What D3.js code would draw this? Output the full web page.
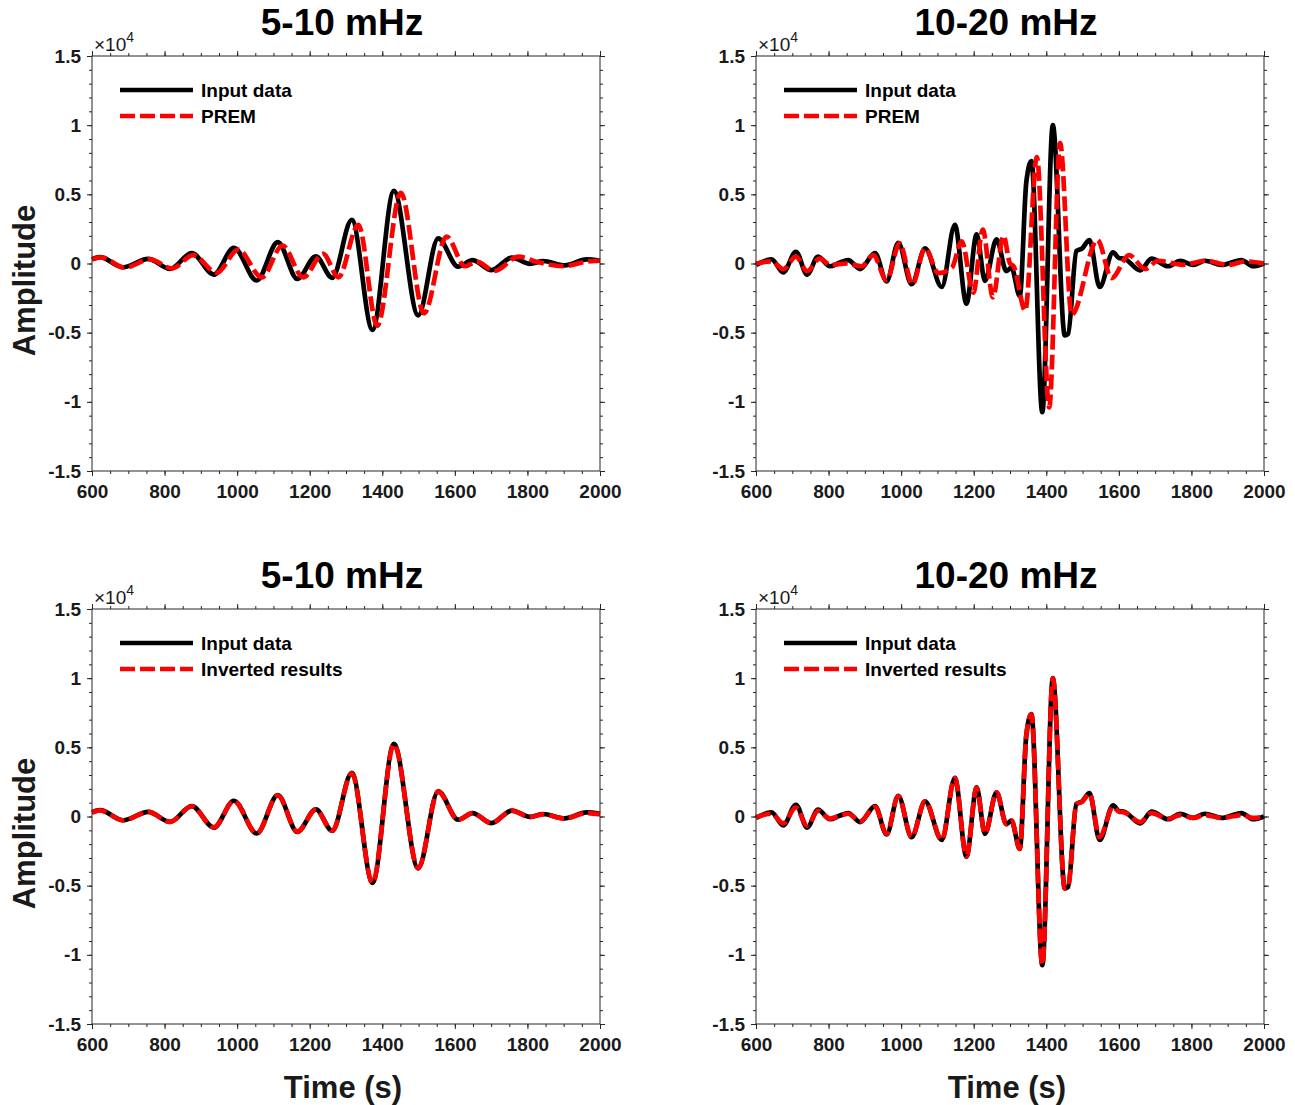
<!DOCTYPE html>
<html>
<head>
<meta charset="utf-8">
<script src="https://cdn.jsdelivr.net/npm/d3@7"></script>
<style>
  html, body { margin: 0; padding: 0; background: #fff; }
  svg { display: block; font-family: "Liberation Sans", Arial, Helvetica, sans-serif; }
</style>
</head>
<body>
<svg id="chart" width="1295" height="1105"></svg>
<script>
// ---- Waveform samples: [time (s), amplitude] ----
// 5-10 mHz band
const input5 = [
  [600, 300], [622, 460], [686, -270], [755, 340], [815, -390], [875, 750],
  [936, -800], [991, 1140], [1054, -1230], [1112, 1540], [1166, -1110],
  [1217, 510], [1262, -1040], [1316, 3150], [1373, -4800], [1432, 5250],
  [1499, -3750], [1554, 1820], [1609, -230], [1649, 250], [1701, -480],
  [1757, 430], [1807, -20], [1843, 180], [1903, -130], [1963, 300], [2000, 200]
];
const prem5 = [
  [600, 300], [625, 450], [690, -300], [760, 300], [820, -350], [879, 600],
  [944, -670], [1003, 1000], [1068, -1000], [1125, 1300], [1182, -1000],
  [1237, 700], [1279, -1000], [1334, 2800], [1386, -4500], [1451, 5100],
  [1515, -3600], [1577, 1950], [1628, -200], [1660, 130], [1710, -540],
  [1775, 500], [1822, 150], [1899, -200], [1967, 150], [2000, 200]
];
const inverted5 = [
  [600, 280], [622, 440], [686, -280], [755, 330], [815, -390], [875, 740],
  [936, -790], [991, 1120], [1054, -1220], [1112, 1520], [1166, -1100],
  [1217, 500], [1262, -1030], [1316, 3120], [1373, -4780], [1432, 5200],
  [1499, -3720], [1554, 1800], [1609, -240], [1649, 240], [1701, -470],
  [1757, 420], [1807, -50], [1843, 150], [1903, -150], [1963, 250], [2000, 150]
];

// 10-20 mHz band
const input10 = [
  [600, -100], [643, 300], [675, -650], [710, 850], [741, -800], [771, 500],
  [804, -200], [830, 50], [854, 250], [887, -400], [928, 750], [960, -1300],
  [992, 1500], [1029, -1500], [1066, 1100], [1112, -1700], [1148, 2800],
  [1180, -2900], [1208, 2100], [1231, -1250], [1263, 1750], [1290, -550],
  [1304, -300], [1327, -2350], [1345, 5900], [1359, 7400], [1389, -10750],
  [1418, 10000], [1451, -5200], [1460, -5100], [1483, 900], [1499, 1100],
  [1519, 1700], [1547, -1700], [1584, 800], [1600, 400], [1615, 350],
  [1659, -500], [1690, 350], [1736, -200], [1769, 200], [1805, -100],
  [1837, 200], [1883, -100], [1938, 250], [1970, -200], [2000, 0]
];
const prem10 = [
  [600, 0], [643, 150], [675, -400], [710, 500], [741, -550], [775, 350],
  [806, -100], [850, 0], [891, -200], [923, 600], [960, -1200], [996, 1450],
  [1031, -1500], [1066, 1100], [1103, -700], [1140, -300], [1167, 1600],
  [1199, -2100], [1225, 2450], [1253, -2450], [1282, 2000], [1300, 0],
  [1310, -200], [1342, -3400], [1374, 7700], [1408, -10400], [1438, 8700],
  [1470, -3700], [1541, 1700], [1580, -1050], [1628, 600], [1673, -400],
  [1708, 200], [1776, -100], [1840, 200], [1900, -100], [1950, 150], [2000, 0]
];
const inverted10 = [
  [600, -50], [643, 200], [675, -500], [710, 650], [741, -650], [771, 400],
  [804, -150], [830, 50], [854, 200], [887, -350], [928, 700], [960, -1250],
  [992, 1480], [1029, -1480], [1066, 1100], [1112, -1680], [1148, 2780],
  [1180, -2880], [1208, 2080], [1231, -1240], [1263, 1740], [1290, -550],
  [1304, -300], [1327, -2330], [1345, 5880], [1359, 7380], [1389, -10720],
  [1418, 9980], [1451, -5180], [1460, -5080], [1483, 900], [1499, 1080],
  [1519, 1650], [1547, -1500], [1584, 700], [1600, 350], [1615, 300],
  [1659, -400], [1690, 250], [1736, -150], [1769, 100], [1805, -100],
  [1837, 100], [1883, -100], [1938, 100], [1970, -100], [2000, 0]
];

// ---- Axis ticks ----
const xTicks = [600, 800, 1000, 1200, 1400, 1600, 1800, 2000];
const yTicks = [-15000, -10000, -5000, 0, 5000, 10000, 15000];
const xMinorTicks = d3.range(600, 2001, 50);
const yMinorTicks = d3.range(-15000, 15001, 1000);

// ---- Panel definitions ----
const panels = [
  { x0: 92,  y0: 56,  title: "5-10 mHz",  data: input5,  model: prem5,      modelName: "PREM",             yLabel: true,  xLabel: false },
  { x0: 756, y0: 56,  title: "10-20 mHz", data: input10, model: prem10,     modelName: "PREM",             yLabel: false, xLabel: false },
  { x0: 92,  y0: 609, title: "5-10 mHz",  data: input5,  model: inverted5,  modelName: "Inverted results", yLabel: true,  xLabel: true },
  { x0: 756, y0: 609, title: "10-20 mHz", data: input10, model: inverted10, modelName: "Inverted results", yLabel: false, xLabel: true }
];

const plotW = 508, plotH = 415;
const lineW = 4.7;
const dash = "15,5";
const axisColor = "#262626";
const svg = d3.select("#chart");

panels.forEach(p => {
  const g = svg.append("g").attr("transform", `translate(${p.x0},${p.y0})`);
  const x = d3.scaleLinear().domain([600, 2000]).range([0, plotW]);
  const y = d3.scaleLinear().domain([-15000, 15000]).range([plotH, 0]);

  const line = d3.line()
    .x(d => x(d[0]))
    .y(d => y(d[1]))
    .curve(d3.curveMonotoneX);

  // waveforms
  g.append("path")
    .attr("d", line(p.data))
    .attr("fill", "none")
    .attr("stroke", "#000")
    .attr("stroke-width", lineW)
    .attr("stroke-linejoin", "round");
  g.append("path")
    .attr("d", line(p.model))
    .attr("fill", "none")
    .attr("stroke", "#ff0000")
    .attr("stroke-width", lineW)
    .attr("stroke-dasharray", dash)
    .attr("stroke-linejoin", "round");

  // axes: major + minor ticks pointing outward on all four sides
  const fmtY = d => String(d / 1e4);
  const styleAxis = sel => {
    sel.select(".domain").remove();
    sel.selectAll("line").attr("stroke", axisColor).attr("stroke-width", 1);
    sel.selectAll("text")
      .attr("fill", "#1a1a1a")
      .style("font-size", "19px")
      .style("font-weight", "bold")
      .style("font-family", '"Liberation Sans", Arial, Helvetica, sans-serif');
  };

  g.append("g").attr("transform", `translate(0,${plotH})`)
    .call(d3.axisBottom(x).tickValues(xMinorTicks).tickSize(3).tickFormat(""))
    .call(styleAxis);
  g.append("g").attr("transform", `translate(0,${plotH})`)
    .call(d3.axisBottom(x).tickValues(xTicks).tickSize(5).tickPadding(9).tickFormat(d3.format("d")))
    .call(styleAxis);
  g.append("g")
    .call(d3.axisTop(x).tickValues(xMinorTicks).tickSize(3).tickFormat(""))
    .call(styleAxis);
  g.append("g")
    .call(d3.axisTop(x).tickValues(xTicks).tickSize(5).tickFormat(""))
    .call(styleAxis);

  g.append("g")
    .call(d3.axisLeft(y).tickValues(yMinorTicks).tickSize(3).tickFormat(""))
    .call(styleAxis);
  g.append("g")
    .call(d3.axisLeft(y).tickValues(yTicks).tickSize(5).tickPadding(6).tickFormat(fmtY))
    .call(styleAxis);
  g.append("g").attr("transform", `translate(${plotW},0)`)
    .call(d3.axisRight(y).tickValues(yMinorTicks).tickSize(3).tickFormat(""))
    .call(styleAxis);
  g.append("g").attr("transform", `translate(${plotW},0)`)
    .call(d3.axisRight(y).tickValues(yTicks).tickSize(5).tickFormat(""))
    .call(styleAxis);

  // frame
  g.append("rect")
    .attr("x", 0).attr("y", 0).attr("width", plotW).attr("height", plotH)
    .attr("fill", "none").attr("stroke", axisColor).attr("stroke-width", 1);

  // exponent label
  const ex = g.append("text")
    .attr("x", 2).attr("y", -5)
    .attr("fill", "#1a1a1a")
    .style("font-size", "19px");
  ex.append("tspan").text("\u00d710");
  ex.append("tspan").attr("dy", -9).style("font-size", "14px").text("4");

  // title
  g.append("text")
    .attr("x", plotW / 2 - 4).attr("y", -21)
    .attr("text-anchor", "middle")
    .attr("fill", "#000")
    .style("font-size", "37px")
    .style("font-weight", "bold")
    .text(p.title);

  // legend
  const legend = g.append("g").attr("transform", "translate(28,34)");
  [["Input data", null, "#000"], [p.modelName, dash, "#ff0000"]].forEach((item, i) => {
    const ly = i * 26;
    legend.append("line")
      .attr("x1", 0).attr("x2", 73).attr("y1", ly).attr("y2", ly)
      .attr("stroke", item[2])
      .attr("stroke-width", lineW)
      .attr("stroke-dasharray", item[1]);
    legend.append("text")
      .attr("x", 81).attr("y", ly + 7)
      .attr("fill", "#000")
      .style("font-size", "19px")
      .style("font-weight", "bold")
      .text(item[0]);
  });

  if (p.yLabel) {
    g.append("text")
      .attr("transform", `translate(-57,${plotH / 2 + 17}) rotate(-90)`)
      .attr("text-anchor", "middle")
      .attr("fill", "#1a1a1a")
      .style("font-size", "31px")
      .style("font-weight", "bold")
      .text("Amplitude");
  }
  if (p.xLabel) {
    g.append("text")
      .attr("x", plotW / 2 - 3).attr("y", plotH + 74)
      .attr("text-anchor", "middle")
      .attr("fill", "#1a1a1a")
      .style("font-size", "31px")
      .style("font-weight", "bold")
      .text("Time (s)");
  }
});
</script>
</body>
</html>
